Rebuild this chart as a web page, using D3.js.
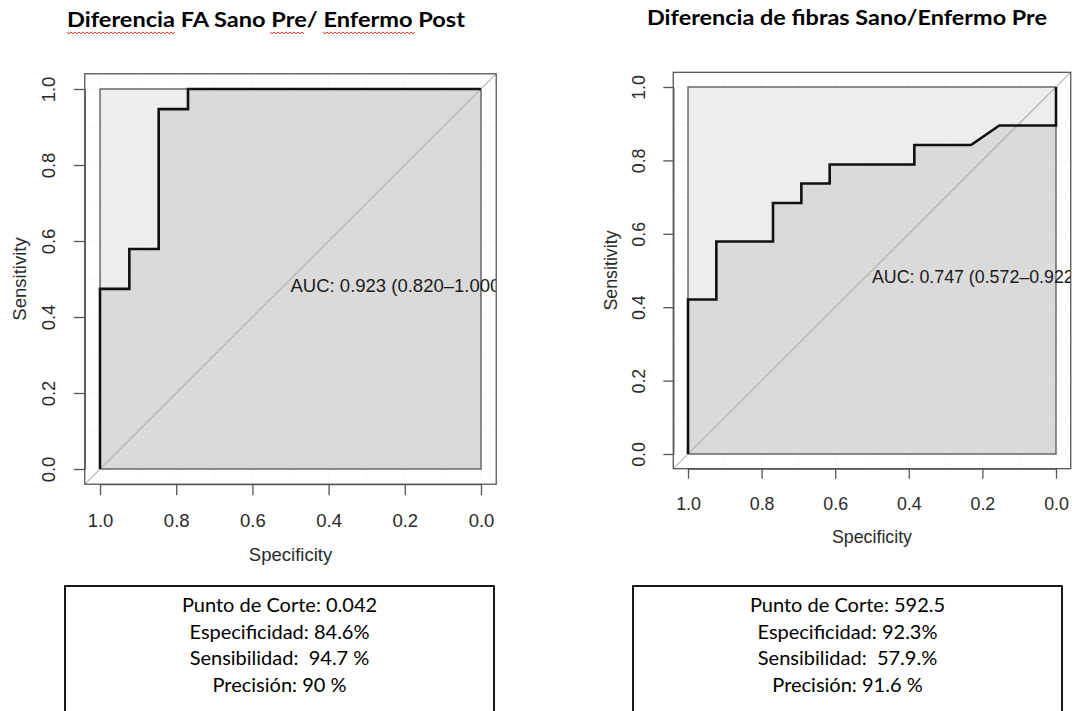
<!DOCTYPE html>
<html>
<head>
<meta charset="utf-8">
<script src="https://cdn.jsdelivr.net/npm/d3@7"></script>
<style>
  html, body { margin: 0; padding: 0; background: #fff; }
  svg { display: block; }
</style>
</head>
<body>
<div id="chart"></div>
<script>
// ---- data ----
const titles = ["Diferencia FA Sano Pre/ Enfermo Post", "Diferencia de fibras Sano/Enfermo Pre"]

const specFA = [1, 1, 0.923, 0.923, 0.846, 0.846, 0.769, 0.769, 0]
const sensFA = [0, 0.474, 0.474, 0.579, 0.579, 0.947, 0.947, 1, 1]

const specFibras = [1, 1, 0.923, 0.923, 0.769, 0.769, 0.692, 0.692, 0.615, 0.615, 0.385, 0.385, 0.231, 0.154, 0, 0]
const sensFibras = [0, 0.421, 0.421, 0.579, 0.579, 0.684, 0.684, 0.737, 0.737, 0.789, 0.789, 0.842, 0.842, 0.895, 0.895, 1]

const aucLabels = ["AUC: 0.923 (0.820\u20131.000)", "AUC: 0.747 (0.572\u20130.922)"]

const tickValues = [0, 0.2, 0.4, 0.6, 0.8, 1.0]

const statsFA = ["Punto de Corte: 0.042", "Especificidad: 84.6%", "Sensibilidad:  94.7 %", "Precisión: 90 %"]
const statsFibras = ["Punto de Corte: 592.5", "Especificidad: 92.3%", "Sensibilidad:  57.9.%", "Precisión: 91.6 %"]

// ---- page ----
let width = 1072
let height = 711
let axisFont = "'Liberation Sans', Arial, Helvetica, sans-serif"
let docFont = "Lato, 'Open Sans', sans-serif"

let svg = d3.select("#chart").append("svg")
  .attr("width", width)
  .attr("height", height)
  .attr("viewBox", [0, 0, width, height])

function rocChart(params){
  let {id, spec, sens, auc, xRange, yRange, fontSize, tickLen, tickOff, xTitleOff, yTitleOff} = params

  let x = d3.scaleLinear().domain([1, 0]).range(xRange)
  let y = d3.scaleLinear().domain([0, 1]).range(yRange)

  // plot region is the unit square widened by 4% on each side (R style)
  let bx0 = x(1.04), bx1 = x(-0.04), by0 = y(1.04), by1 = y(-0.04)

  let g = svg.append("g")

  g.append("clipPath").attr("id", `clip-${id}`)
    .append("rect")
    .attr("x", bx0).attr("y", by0)
    .attr("width", bx1 - bx0).attr("height", by1 - by0)

  let inner = g.append("g").attr("clip-path", `url(#clip-${id})`)

  // max auc polygon
  inner.append("rect")
    .attr("x", x(1)).attr("y", y(1))
    .attr("width", x(0) - x(1)).attr("height", y(0) - y(1))
    .attr("fill", "#ededed")

  // auc polygon
  let pts = spec.map((d, i) => [d, sens[i]])
  let area = d3.area()
    .x(d => x(d[0]))
    .y0(y(0))
    .y1(d => y(d[1]))
  inner.append("path")
    .attr("d", area(pts))
    .attr("fill", "#dadada")

  // grid
  let grid = d3.range(0, 11).map(d => d / 10)
  inner.selectAll(null).data(grid).join("line")
    .attr("x1", d => x(d)).attr("x2", d => x(d))
    .attr("y1", by0).attr("y2", by1)
    .attr("stroke", "#e4e4e4").attr("stroke-dasharray", "1,3")
  inner.selectAll(null).data(grid).join("line")
    .attr("y1", d => y(d)).attr("y2", d => y(d))
    .attr("x1", bx0).attr("x2", bx1)
    .attr("stroke", "#e4e4e4").attr("stroke-dasharray", "1,3")

  inner.append("rect")
    .attr("x", x(1)).attr("y", y(1))
    .attr("width", x(0) - x(1)).attr("height", y(0) - y(1))
    .attr("fill", "none")
    .attr("stroke", "#555").attr("stroke-width", 1.3)

  // identity line
  inner.append("line")
    .attr("x1", x(1.1)).attr("y1", y(-0.1))
    .attr("x2", x(-0.1)).attr("y2", y(1.1))
    .attr("stroke", "#b0b0b0").attr("stroke-width", 1.1)

  // roc curve
  inner.append("path")
    .attr("d", d3.line().x(d => x(d[0])).y(d => y(d[1]))(pts))
    .attr("fill", "none")
    .attr("stroke", "#111").attr("stroke-width", 2.6)
    .attr("stroke-linejoin", "miter")

  // auc label, clipped at the plot edge like the original
  inner.append("text")
    .attr("x", x(0.5)).attr("y", y(0.5))
    .attr("dy", "0.72em")
    .attr("font-family", axisFont).attr("font-size", fontSize)
    .attr("fill", "#1a1a1a")
    .text(auc)

  // box
  g.append("rect")
    .attr("x", bx0).attr("y", by0)
    .attr("width", bx1 - bx0).attr("height", by1 - by0)
    .attr("fill", "none")
    .attr("stroke", "#555").attr("stroke-width", 1.3)

  // axes
  let xAxis = g.append("g")
    .attr("transform", `translate(0,${by1})`)
    .call(d3.axisBottom(x).tickValues(tickValues).tickSize(tickLen).tickSizeOuter(0).tickFormat(d3.format(".1f")))
  let yAxis = g.append("g")
    .attr("transform", `translate(${bx0},0)`)
    .call(d3.axisLeft(y).tickValues(tickValues).tickSize(tickLen).tickSizeOuter(0).tickFormat(d3.format(".1f")))

  for (let ax of [xAxis, yAxis]) {
    ax.attr("font-family", axisFont).attr("font-size", fontSize)
    ax.selectAll("line, path").attr("stroke", "#555").attr("stroke-width", 1.3)
    ax.selectAll("text").attr("fill", "#2a2a2a")
  }
  xAxis.selectAll("text").attr("y", tickOff).attr("dy", "0.35em")
  yAxis.selectAll("text")
    .attr("x", null).attr("dy", "0.35em")
    .attr("transform", `translate(${-tickOff},0) rotate(-90)`)
    .style("text-anchor", "middle")

  g.append("text")
    .attr("x", (bx0 + bx1) / 2).attr("y", by1 + xTitleOff).attr("dy", "0.35em")
    .attr("text-anchor", "middle")
    .attr("font-family", axisFont).attr("font-size", fontSize).attr("fill", "#2a2a2a")
    .text("Specificity")

  g.append("text")
    .attr("transform", `translate(${bx0 - yTitleOff},${(by0 + by1) / 2}) rotate(-90)`)
    .attr("dy", "0.35em")
    .attr("text-anchor", "middle")
    .attr("font-family", axisFont).attr("font-size", fontSize).attr("fill", "#2a2a2a")
    .text("Sensitivity")
}

function title(text, cx, baseline, w){
  svg.append("text")
    .attr("x", cx).attr("y", baseline)
    .attr("text-anchor", "middle")
    .attr("font-family", docFont).attr("font-weight", 700).attr("font-size", 20.5)
    .attr("textLength", w).attr("lengthAdjust", "spacingAndGlyphs")
    .attr("fill", "#000")
    .text(text)
}

// red spell-check squiggles
function squiggle(x0, x1, yy){
  let step = 2
  let p = d3.path()
  p.moveTo(x0, yy)
  let k = 0
  for (let xx = x0 + step; xx <= x1; xx += step) {
    p.lineTo(xx, yy + (k % 2 === 0 ? 1.8 : 0))
    k++
  }
  svg.append("path").attr("d", p.toString())
    .attr("fill", "none").attr("stroke", "#e8352f").attr("stroke-width", 1)
}

function statsBox(lines, x0, x1){
  svg.append("rect")
    .attr("x", x0).attr("y", 586)
    .attr("width", x1 - x0).attr("height", 140)
    .attr("fill", "none").attr("stroke", "#000").attr("stroke-width", 1.8)
  svg.selectAll(null).data(lines).join("text")
    .attr("x", (x0 + x1) / 2)
    .attr("y", (d, i) => 612 + i * 26.7)
    .attr("text-anchor", "middle")
    .attr("font-family", docFont).attr("font-size", 20)
    .attr("fill", "#000")
    .attr("xml:space", "preserve")
    .style("white-space", "pre")
    .text(d => d)
}

title(titles[0], 266, 27, 398)
title(titles[1], 847, 25, 400)
squiggle(67, 175, 32)
squiggle(270, 305, 32)
squiggle(323, 415, 32)

rocChart({id: "fa", spec: specFA, sens: sensFA, auc: aucLabels[0],
  xRange: [100, 481], yRange: [469, 89], fontSize: 18.5, tickLen: 11, tickOff: 36, xTitleOff: 70, yTitleOff: 65})
rocChart({id: "fibras", spec: specFibras, sens: sensFibras, auc: aucLabels[1],
  xRange: [688, 1056], yRange: [454, 87], fontSize: 17.8, tickLen: 10, tickOff: 35, xTitleOff: 68, yTitleOff: 63})

statsBox(statsFA, 65, 494)
statsBox(statsFibras, 633, 1062)
</script>
</body>
</html>
